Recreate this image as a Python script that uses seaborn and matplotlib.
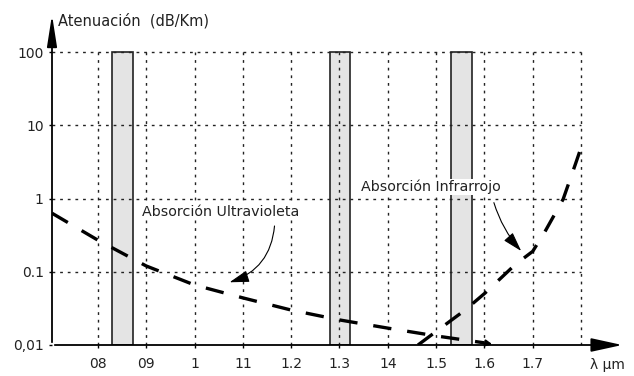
import matplotlib
matplotlib.use("Agg")
import matplotlib.pyplot as plt
import seaborn as sns
import pandas as pd
import numpy as np

# ---- data ----
uv_x = [0.705, 0.80, 0.90, 1.00, 1.10, 1.20, 1.30, 1.40, 1.50, 1.60]
uv_y = [0.63, 0.27, 0.12, 0.066, 0.044, 0.030, 0.022, 0.017, 0.0133, 0.0107]
ir_x = [1.4625, 1.504, 1.56, 1.601, 1.663, 1.70, 1.725, 1.763, 1.788, 1.802]
ir_y = [0.010, 0.016, 0.030, 0.051, 0.124, 0.19, 0.35, 0.98, 2.9, 5.4]
window_centers = [0.851, 1.301, 1.552]
window_width = 0.043
x_ticks = [0.8, 0.9, 1.0, 1.1, 1.2, 1.3, 1.4, 1.5, 1.6, 1.7]
x_ticklabels = ["08", "09", "1", "11", "1.2", "1.3", "14", "1.5", "1.6", "1.7"]
x_grid = [0.8, 0.9, 1.0, 1.1, 1.2, 1.3, 1.4, 1.5, 1.6, 1.7, 1.8]
y_ticks = [0.01, 0.1, 1, 10, 100]
y_ticklabels = ["0,01", "0.1", "1", "10", "100"]
y_grid = [0.1, 1, 10, 100]

sns.set_theme(style="white")
plt.rcParams['font.family'] = ['DejaVu Sans']

fig = plt.figure(figsize=(6.34, 3.76), dpi=100)
ax = fig.add_axes([52/634, 31/376, 573/634, 333/376])
ax.set_yscale('log')
ax.set_xlim(0.705, 1.891)
ax.set_ylim(0.01, 352)

# windows (bars)
ax.bar(window_centers, [100 - 0.01]*3, bottom=0.01, width=window_width,
       color="#e4e4e4", edgecolor="#222222", linewidth=1.2, zorder=1)

# grid
ax.vlines(x_grid, 0.01, 100, colors="#222222", linestyles=(0, (2, 3.5)), linewidth=1.0, zorder=2)
ax.hlines(y_grid, 0.705, 1.8, colors="#222222", linestyles=(0, (2, 3.5)), linewidth=1.0, zorder=2)

# curves
df = pd.DataFrame({
    "wl": uv_x + ir_x,
    "att": uv_y + ir_y,
    "serie": ["UV"]*len(uv_x) + ["IR"]*len(ir_x),
})
sns.lineplot(data=df, x="wl", y="att", hue="serie", style="serie",
             palette=["black", "black"], dashes=[(5.5, 4.8), (5.5, 4.8)],
             linewidth=2.4, estimator=None, legend=False, ax=ax, zorder=3)

# small arrow head at end of UV curve
ax.annotate("", xy=(1.622, 0.0101), xytext=(1.60, 0.0107),
            arrowprops=dict(arrowstyle="-|>", color="black", lw=1.5, mutation_scale=9), zorder=3)

# annotations
ax.text(1.053, 0.655, "Absorción Ultravioleta", ha="center", va="center", fontsize=10.3,
        color="#222222", bbox=dict(facecolor="white", edgecolor="none", pad=0.5), zorder=4)
ax.annotate("", xy=(1.067, 0.070), xytext=(1.166, 0.46),
            arrowprops=dict(arrowstyle="-|>,head_length=1.0,head_width=0.3", color="black", lw=0.8,
                            connectionstyle="arc3,rad=-0.35"), zorder=4)
ax.text(1.489, 1.44, "Absorción Infrarrojo", ha="center", va="center", fontsize=10.3,
        color="#222222", bbox=dict(facecolor="white", edgecolor="none", pad=0.5), zorder=4)
ax.annotate("", xy=(1.68, 0.18), xytext=(1.618, 0.955),
            arrowprops=dict(arrowstyle="-|>,head_length=1.0,head_width=0.3", color="black", lw=0.8,
                            connectionstyle="arc3,rad=0.12"), zorder=4)

# axes with arrows
for s in ax.spines.values():
    s.set_visible(False)
ax.annotate("", xy=(1, 0), xytext=(0, 0), xycoords="axes fraction",
            arrowprops=dict(arrowstyle="-|>,head_length=1.6,head_width=0.35", color="black", lw=1.3),
            annotation_clip=False)
ax.annotate("", xy=(0, 1), xytext=(0, 0), xycoords="axes fraction",
            arrowprops=dict(arrowstyle="-|>,head_length=1.6,head_width=0.25", color="black", lw=1.3),
            annotation_clip=False)

ax.set_xticks(x_ticks)
ax.set_xticklabels(x_ticklabels)
ax.set_yticks(y_ticks)
ax.set_yticklabels(y_ticklabels)
ax.minorticks_off()
ax.tick_params(axis="both", direction="out", length=2, width=1, color="black",
               labelsize=10, labelcolor="#222222", left=True, bottom=True)
ax.tick_params(axis="x", pad=7)
ax.tick_params(axis="y", pad=4)
ax.set_xlabel("")
ax.set_ylabel("")

fig.text(58/634, 1 - 21/376, "Atenuación  (dB/Km)", ha="left", va="center", fontsize=10.5, color="#222222")
fig.text(590/634, 1 - 365/376, "λ μm", ha="left", va="center", fontsize=10, color="#222222")

fig.savefig("out.png", dpi=100, facecolor="white")
